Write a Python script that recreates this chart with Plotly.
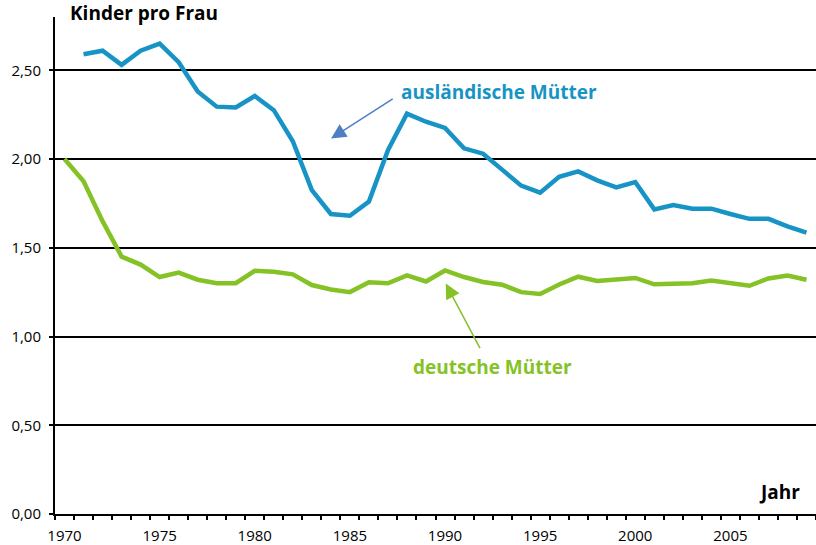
import plotly.graph_objects as go

years = list(range(1970, 2010))
auslaendisch = [None, 2.59, 2.61, 2.53, 2.61, 2.65, 2.545, 2.38, 2.295, 2.29,
                2.355, 2.275, 2.10, 1.825, 1.69, 1.68, 1.76, 2.05, 2.255, 2.21,
                2.175, 2.06, 2.03, 1.94, 1.85, 1.81, 1.90, 1.93, 1.88, 1.84,
                1.87, 1.716, 1.74, 1.72, 1.72, 1.69, 1.663, 1.663, 1.62, 1.585]
deutsch = [2.00, 1.875, 1.65, 1.45, 1.405, 1.335, 1.36, 1.32, 1.30, 1.30,
           1.37, 1.365, 1.35, 1.29, 1.265, 1.25, 1.305, 1.30, 1.344, 1.31,
           1.372, 1.335, 1.307, 1.292, 1.25, 1.24, 1.293, 1.337, 1.313, 1.32,
           1.33, 1.294, 1.30, 1.30, 1.315, 1.30, 1.286, 1.327, 1.344, 1.32]
y_ticks = [0, 0.5, 1.0, 1.5, 2.0, 2.5]
x_label_years = [1970, 1975, 1980, 1985, 1990, 1995, 2000, 2005]

BLUE = "#1794c5"
GREEN = "#84c225"
ARROW_BLUE = "#4d7fc2"
FONT = "Open Sans"

fig = go.Figure()
fig.add_trace(go.Scatter(x=years, y=auslaendisch, mode="lines",
                         line=dict(color=BLUE, width=4.5), showlegend=False,
                         connectgaps=False))
fig.add_trace(go.Scatter(x=years, y=deutsch, mode="lines",
                         line=dict(color=GREEN, width=4.5), showlegend=False))

fig.update_layout(
    width=816, height=545,
    margin=dict(l=55, r=0, t=17, b=31),
    paper_bgcolor="white", plot_bgcolor="white",
    separators=",.",
    font=dict(family=FONT, color="black", size=15),
    xaxis=dict(
        range=[years[0] - 0.5, years[-1] + 0.5],
        tickmode="array", tickvals=x_label_years,
        ticks="outside", ticklen=7, tickcolor="rgba(0,0,0,0)",
        showgrid=False, zeroline=False,
        showline=True, linecolor="black", linewidth=2,
        tickfont=dict(size=15),
        minor=dict(tickmode="array", tickvals=[y - 0.5 for y in years] + [years[-1] + 0.5],
                   ticks="outside", ticklen=4, tickwidth=2, tickcolor="black",
                   showgrid=False),
    ),
    yaxis=dict(
        range=[0, 2.8],
        tickmode="array", tickvals=y_ticks, tickformat=".2f",
        ticks="outside", ticklen=4, tickwidth=2, tickcolor="black",
        showgrid=True, gridcolor="black", gridwidth=2,
        zeroline=False, showline=True, linecolor="black", linewidth=2,
        tickfont=dict(size=15), ticklabelstandoff=5,
    ),
)

annotations = [
    dict(text="<b>Kinder pro Frau</b>", xref="paper", yref="paper",
         x=(68 - 55) / 761, y=1 + 4 / 497, xanchor="left", yanchor="middle",
         showarrow=False, font=dict(size=19, color="black")),
    dict(text="<b>Jahr</b>", xref="paper", yref="paper",
         x=(802 - 55) / 761, y=0.044, xanchor="right", yanchor="middle",
         showarrow=False, font=dict(size=19, color="black")),
    dict(text="<b>ausländische Mütter</b>", x=1992.82, y=2.378,
         xanchor="center", yanchor="middle", showarrow=False,
         font=dict(size=19, color=BLUE)),
    dict(text="<b>deutsche Mütter</b>", x=1992.52, y=0.828,
         xanchor="center", yanchor="middle", showarrow=False,
         font=dict(size=19, color=GREEN)),
    dict(text="", x=1984.01, y=2.115, ax=1987.33, ay=2.344, axref="x", ayref="y",
         showarrow=True, arrowhead=2, arrowsize=2, arrowwidth=1.5,
         arrowcolor=ARROW_BLUE, standoff=0),
    dict(text="", x=1990.04, y=1.298, ax=1991.88, ay=0.926, axref="x", ayref="y",
         showarrow=True, arrowhead=2, arrowsize=2, arrowwidth=1.5,
         arrowcolor=GREEN, standoff=0),
]
fig.update_layout(annotations=annotations)

fig.write_html("out.html", config={"displayModeBar": False},
               post_script="document.body.style.margin='0';")
